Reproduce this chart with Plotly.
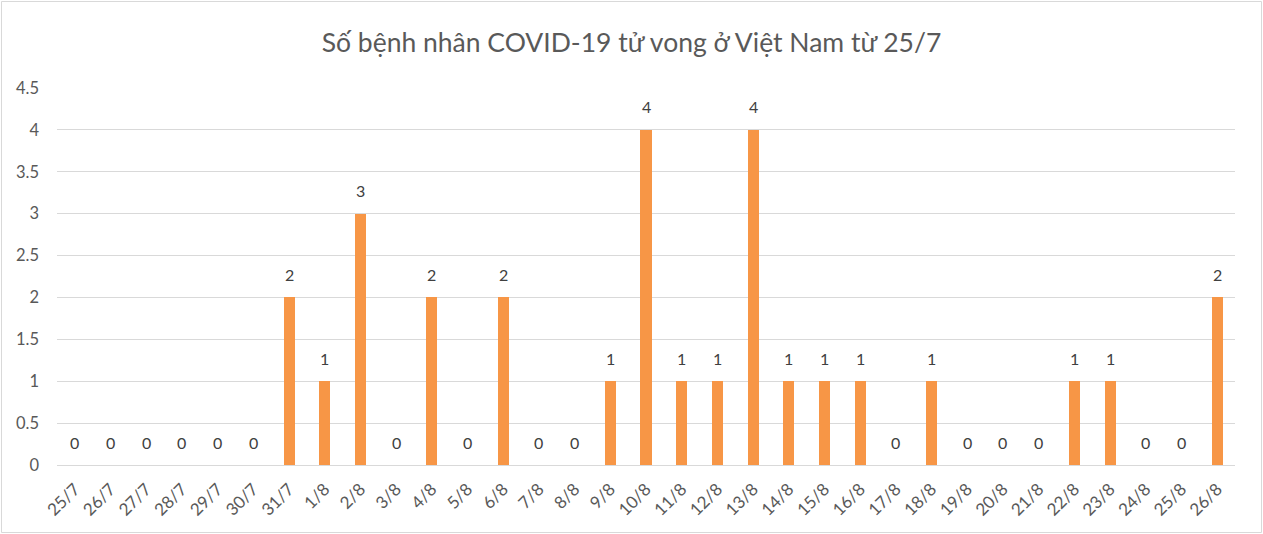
import plotly.graph_objects as go

categories = ["25/7", "26/7", "27/7", "28/7", "29/7", "30/7", "31/7", "1/8", "2/8", "3/8",
              "4/8", "5/8", "6/8", "7/8", "8/8", "9/8", "10/8", "11/8", "12/8", "13/8",
              "14/8", "15/8", "16/8", "17/8", "18/8", "19/8", "20/8", "21/8", "22/8", "23/8",
              "24/8", "25/8", "26/8"]
deaths = [0, 0, 0, 0, 0, 0, 2, 1, 3, 0,
          2, 0, 2, 0, 0, 1, 4, 1, 1, 4,
          1, 1, 1, 0, 1, 0, 0, 0, 1, 1,
          0, 0, 2]
title_text = "Số bệnh nhân COVID-19 tử vong ở Việt Nam từ 25/7"

FONT = "Lato"
W, H = 1263, 534
L, R, T, B = 57, 28, 88, 69
pw, ph = W - L - R, H - T - B

fig = go.Figure(go.Bar(
    x=categories, y=deaths,
    marker=dict(color="#F79646", line=dict(width=0)),
    width=0.31,
    hoverinfo="x+y",
))

for c, v in zip(categories, deaths):
    fig.add_annotation(x=c, y=v, text=str(v), showarrow=False,
                       yanchor="middle", xanchor="center", yshift=23,
                       font=dict(size=16, color="#404040", family=FONT))

fig.update_layout(
    width=W, height=H,
    margin=dict(l=L, r=R, t=T, b=B),
    paper_bgcolor="white", plot_bgcolor="white",
    showlegend=False,
    title=dict(text=title_text, x=0.5, xanchor="center", y=1 - 43 / H, yanchor="middle",
               font=dict(size=26.5, color="#595959", family=FONT)),
    font=dict(family=FONT, color="#595959"),
    xaxis=dict(type="category", tickangle=-45, showgrid=False, showline=False,
               ticks="", tickfont=dict(size=17, color="#595959"), ticklabelstandoff=10),
    yaxis=dict(range=[0, 4.5], dtick=0.5, showgrid=True, gridcolor="#D9D9D9", gridwidth=1,
               zeroline=True, zerolinecolor="#D9D9D9", zerolinewidth=1,
               showline=False, ticks="", tickfont=dict(size=16.5, color="#595959"),
               ticklabelstandoff=17),
    bargap=0,
)

fig.add_shape(type="rect", xref="paper", yref="paper",
              x0=(1.5 - L) / pw, x1=(W - 1.5 - L) / pw,
              y0=(H - B - (H - 1.5)) / ph, y1=(H - B - 1.5) / ph,
              line=dict(color="#D9D9D9", width=1), fillcolor="rgba(0,0,0,0)", layer="below")

fig.write_html("out.html")
